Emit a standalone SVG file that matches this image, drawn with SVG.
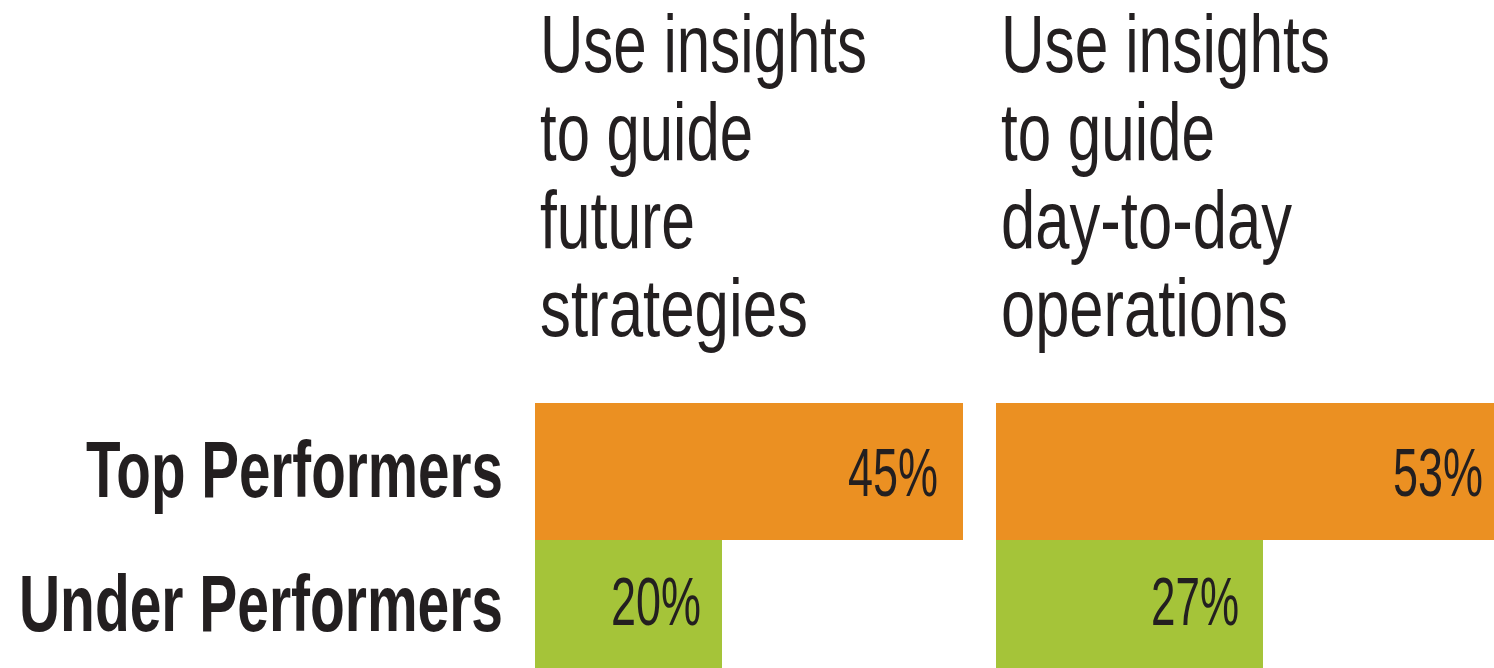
<svg xmlns="http://www.w3.org/2000/svg" width="1494" height="668" viewBox="0 0 1494 668">
<style>
.h{font-family:"Liberation Sans",Arial,sans-serif;font-size:82px;fill:#231F20}
.l{font-family:"Liberation Sans",Arial,sans-serif;font-size:80px;font-weight:bold;fill:#231F20}
.p{font-family:"Liberation Sans",Arial,sans-serif;font-size:68px;fill:#231F20}
.top{fill:#EB9022}
.und{fill:#A5C439}
</style>
<rect width="1494" height="668" fill="#FFFFFF"/>
<g id="heading-strategies">
<text class="h" x="540" y="72" textLength="327" lengthAdjust="spacingAndGlyphs">Use insights</text>
<text class="h" x="540" y="160" textLength="213" lengthAdjust="spacingAndGlyphs">to guide</text>
<text class="h" x="540" y="248" textLength="155" lengthAdjust="spacingAndGlyphs">future</text>
<text class="h" x="540" y="336" textLength="268" lengthAdjust="spacingAndGlyphs">strategies</text>
</g>
<g id="heading-operations">
<text class="h" x="1001" y="72" textLength="329" lengthAdjust="spacingAndGlyphs">Use insights</text>
<text class="h" x="1001" y="160" textLength="214" lengthAdjust="spacingAndGlyphs">to guide</text>
<text class="h" x="1001" y="248" textLength="291" lengthAdjust="spacingAndGlyphs">day-to-day</text>
<text class="h" x="1001" y="336" textLength="287" lengthAdjust="spacingAndGlyphs">operations</text>
</g>
<g id="label-top">
<text class="l" x="86" y="497" textLength="417" lengthAdjust="spacingAndGlyphs">Top Performers</text>
</g>
<g id="label-under">
<text class="l" x="19" y="631" textLength="484" lengthAdjust="spacingAndGlyphs">Under Performers</text>
</g>
<g id="bar-top-strategies">
<rect class="top" x="535" y="403" width="428" height="137"/>
<text class="p" x="848" y="496" textLength="90" lengthAdjust="spacingAndGlyphs">45%</text>
</g>
<g id="bar-under-strategies">
<rect class="und" x="535" y="540" width="187" height="128"/>
<text class="p" x="611" y="625" textLength="90" lengthAdjust="spacingAndGlyphs">20%</text>
</g>
<g id="bar-top-operations">
<rect class="top" x="996" y="403" width="498" height="137"/>
<text class="p" x="1393" y="496" textLength="90" lengthAdjust="spacingAndGlyphs">53%</text>
</g>
<g id="bar-under-operations">
<rect class="und" x="996" y="540" width="267" height="128"/>
<text class="p" x="1151" y="625" textLength="88" lengthAdjust="spacingAndGlyphs">27%</text>
</g>
<g id="connectors"></g>
</svg>
